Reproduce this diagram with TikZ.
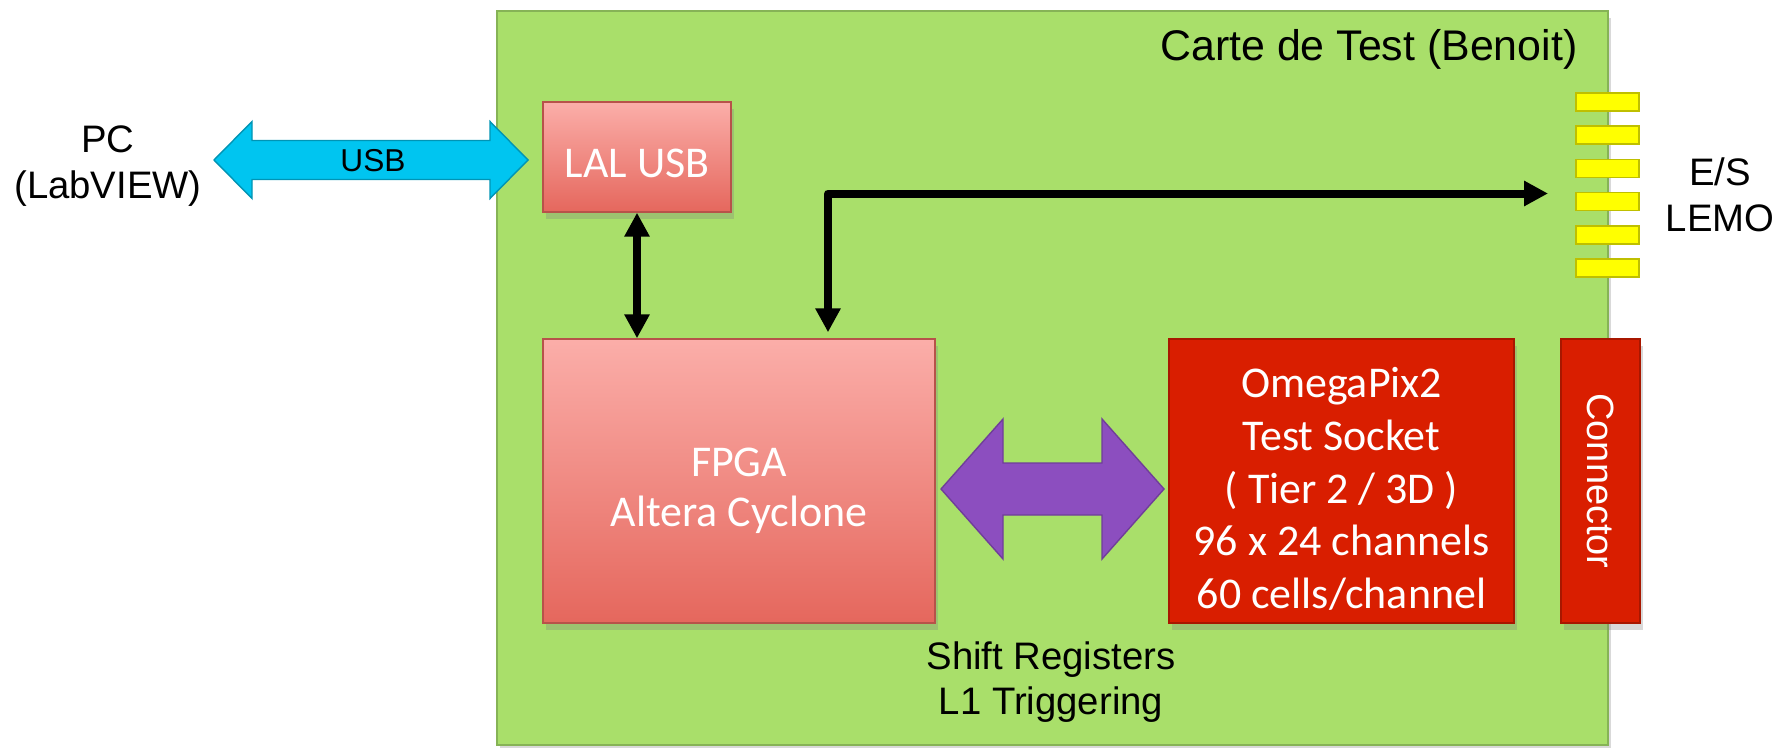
\documentclass[tikz,border=0pt]{standalone}
\usepackage{fontspec}
\setmainfont{Liberation Sans}
\newfontfamily\calfont{Carlito}
\usetikzlibrary{arrows.meta,shadows}

\definecolor{boardgreen}{HTML}{A9DF6A}
\definecolor{boardedge}{HTML}{86B356}
\definecolor{pinktop}{HTML}{FBAEA9}
\definecolor{pinkbot}{HTML}{E5675D}
\definecolor{chipred}{HTML}{D91E00}
\definecolor{chipedge}{HTML}{A81700}
\definecolor{usbcyan}{HTML}{00C5F0}
\definecolor{busviolet}{HTML}{8C4EBF}
\definecolor{lemoyellow}{HTML}{FFFF00}

\tikzset{
  softshadow/.style={drop shadow={opacity=0.3,shadow xshift=0.3mm,shadow yshift=-0.7mm}},
  pinkbox/.style={rectangle,top color=pinktop,bottom color=pinkbot,draw=pinkbot!80!black,
    line width=0.4pt,softshadow},
  redbox/.style={rectangle,fill=chipred,draw=chipedge,line width=0.4pt,softshadow},
  boxtext/.style={text=white,font=\calfont\fontsize{12.5}{15}\selectfont,align=center},
  lemopin/.style={rectangle,fill=lemoyellow,draw=lemoyellow!75!black,line width=0.4pt,
    minimum width=6.3mm,minimum height=1.8mm,inner sep=0pt},
  lbl/.style={font=\fontsize{10.9}{13}\selectfont,align=center},
}

\begin{document}
\begin{tikzpicture}[line width=0.8mm,>={Triangle[length=2.4mm,width=2.4mm]}]
  \useasboundingbox (0,0) rectangle (17.85,7.47);
  % carte de test
  \node[rectangle,fill=boardgreen,draw=boardedge,line width=0.6pt,minimum width=11.11cm,
    minimum height=7.34cm,softshadow] (board) at (10.525,3.69) {};
  \node[lbl,anchor=east,font=\fontsize{12.2}{14}\selectfont] (title)
    at ([xshift=-1.6mm,yshift=-3.9mm]board.north east) {Carte de Test (Benoit)};
  % connecteurs LEMO
  \foreach \i in {0,...,5}
    \node[lemopin] (lemo\i) at (16.075,{6.45-0.332*\i}) {};
  \node[lbl] (es) at (17.20,5.52) {E/S\\LEMO};
  % blocs
  \node[pinkbox,minimum width=1.88cm,minimum height=1.10cm] (lal) at (6.37,5.90) {};
  \node[boxtext] (laltxt) at ([yshift=-0.6mm]lal.center) {LAL USB};
  \node[pinkbox,minimum width=3.92cm,minimum height=2.84cm] (fpga) at (7.39,2.66) {};
  \node[boxtext,font=\calfont\fontsize{12.5}{14.3}\selectfont] (fpgatxt)
    at ([yshift=-1mm]fpga.center) {FPGA\\Altera Cyclone};
  \node[redbox,minimum width=3.45cm,minimum height=2.84cm] (omega) at (13.415,2.66) {};
  \node[boxtext] (omegatxt) at ([yshift=-0.8mm]omega.center)
    {OmegaPix2\\Test Socket\\( Tier 2 / 3D )\\96 x 24 channels\\60 cells/channel};
  \node[redbox,minimum width=0.79cm,minimum height=2.84cm] (conn) at (16.005,2.66) {};
  \node[rotate=-90,text=white,font=\fontsize{10.8}{13}\selectfont] (conntxt) at (conn.center) {Connector};
  \node[lbl] (shift) at (10.51,0.65) {Shift Registers\\L1 Triggering};
  % PC et lien USB
  \node[lbl] (pc) at (1.08,5.81) {PC\\(LabVIEW)};
  \fill[usbcyan,draw=usbcyan!75!black,line width=0.4pt]
    (2.14,5.87) -- (2.52,6.255) -- (2.52,6.065) -- (4.90,6.065) -- (4.90,6.255) -- (5.28,5.87)
    -- (4.90,5.485) -- (4.90,5.675) -- (2.52,5.675) -- (2.52,5.485) -- cycle;
  \node[lbl,font=\fontsize{9}{11}\selectfont] (usb) at (3.73,5.86) {USB};
  % bus FPGA <-> OmegaPix2
  \fill[busviolet,draw=busviolet!80!black,line width=0.4pt]
    (9.41,2.58) -- (10.03,3.28) -- (10.03,2.84) -- (11.02,2.84) -- (11.02,3.28) -- (11.64,2.58)
    -- (11.02,1.88) -- (11.02,2.32) -- (10.03,2.32) -- (10.03,1.88) -- cycle;
  % liaisons
  \coordinate (esin) at (15.48,5.535);
  \draw[<->] (lal.south) -- (lal.south |- fpga.north);
  \draw[<->,line join=round] ([xshift=8.9mm,yshift=0.6mm]fpga.north) |- (esin);
\end{tikzpicture}
\end{document}
